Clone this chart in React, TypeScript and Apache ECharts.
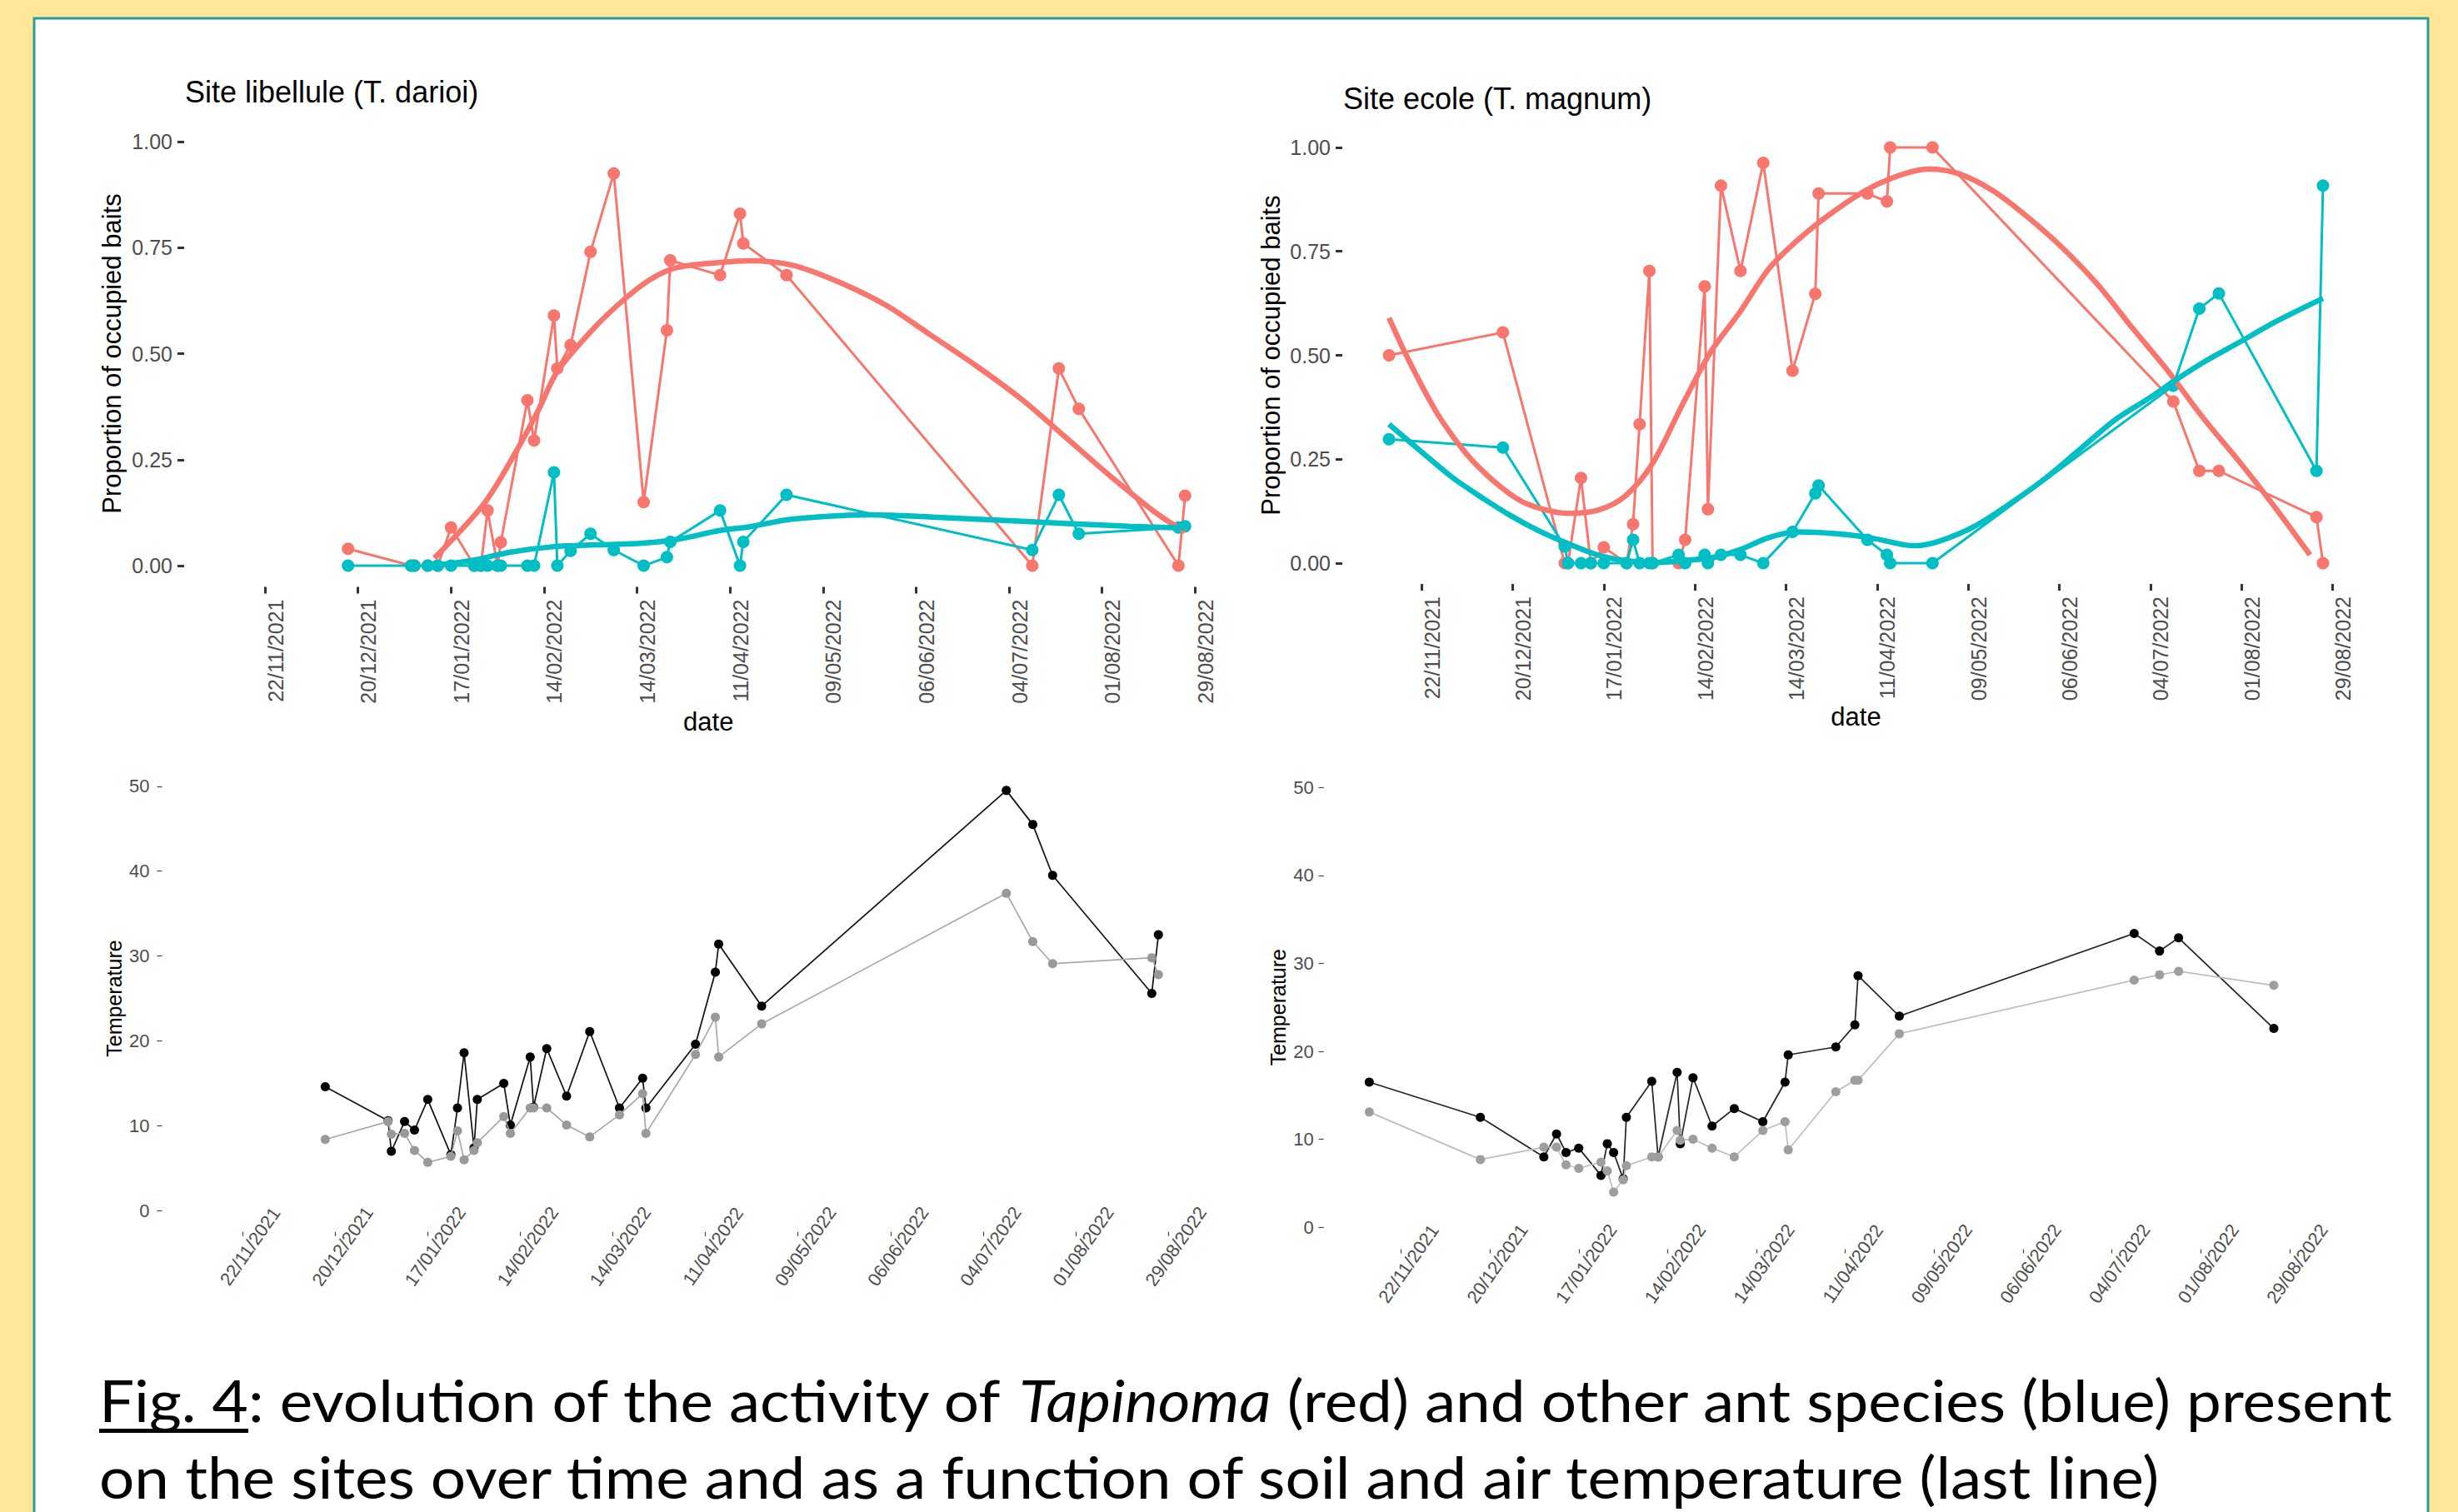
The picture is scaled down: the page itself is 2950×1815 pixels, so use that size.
import React, { useEffect, useRef } from 'react';
import * as echarts from 'echarts';

// ---------------- data ----------------
const BASE_DATE = '2021-11-22';
const tickDates = ['2021-11-22', '2021-12-20', '2022-01-17', '2022-02-14', '2022-03-14', '2022-04-11', '2022-05-09', '2022-06-06', '2022-07-04', '2022-08-01', '2022-08-29'];
const propTicks = [0, 0.25, 0.5, 0.75, 1];
const tempTicks = [0, 10, 20, 30, 40, 50];

// Site libellule (T. darioi)
const libDates = ['2021-12-17', '2022-01-05', '2022-01-06', '2022-01-10', '2022-01-13', '2022-01-17', '2022-01-24', '2022-01-26', '2022-01-28', '2022-01-31', '2022-02-01', '2022-02-09', '2022-02-11', '2022-02-17', '2022-02-18', '2022-02-22', '2022-02-28', '2022-03-07', '2022-03-16', '2022-03-23', '2022-03-24', '2022-04-08', '2022-04-14', '2022-04-15', '2022-04-28', '2022-07-11', '2022-07-19', '2022-07-25', '2022-08-24', '2022-08-26'];
const libTapinoma = [0.04, 0, 0, 0, 0, 0.09, 0, 0, 0.13, 0, 0.055, 0.39, 0.295, 0.59, 0.465, 0.52, 0.74, 0.925, 0.15, 0.555, 0.72, 0.685, 0.83, 0.76, 0.685, 0, 0.465, 0.37, 0, 0.165];
const libOther = [0, 0, 0, 0, 0, 0, 0, 0, 0, 0, 0, 0, 0, 0.22, 0, 0.035, 0.075, 0.037, 0, 0.02, 0.056, 0.13, 0, 0.056, 0.167, 0.037, 0.167, 0.075, 0.09, 0.093];
// smooth curves (days since 22/11/2021)
const libTapinomaSmoothDay = [51, 66, 76, 82.5, 88, 99, 108, 116, 124, 137, 146, 159, 173, 187, 200, 214, 228, 241, 255, 269, 277];
const libTapinomaSmooth = [0.018, 0.147, 0.275, 0.37, 0.458, 0.56, 0.627, 0.675, 0.703, 0.715, 0.719, 0.708, 0.668, 0.614, 0.546, 0.472, 0.391, 0.303, 0.208, 0.12, 0.08];
const libOtherSmoothDay = [50, 62, 74, 87, 99, 112, 124, 137, 146, 159, 182, 205, 232, 260, 277];
const libOtherSmooth = [0.0, 0.012, 0.032, 0.045, 0.049, 0.052, 0.062, 0.083, 0.092, 0.11, 0.12, 0.113, 0.103, 0.093, 0.089];

// Site ecole (T. magnum)
const ecoleDates = ['2021-11-12', '2021-12-17', '2022-01-05', '2022-01-06', '2022-01-10', '2022-01-13', '2022-01-17', '2022-01-24', '2022-01-26', '2022-01-28', '2022-01-31', '2022-02-01', '2022-02-09', '2022-02-11', '2022-02-17', '2022-02-18', '2022-02-22', '2022-02-28', '2022-03-07', '2022-03-16', '2022-03-23', '2022-03-24', '2022-04-08', '2022-04-14', '2022-04-15', '2022-04-28', '2022-07-11', '2022-07-19', '2022-07-25', '2022-08-24', '2022-08-26'];
const ecoleTapinoma = [0.5, 0.555, 0, 0, 0.205, 0, 0.038, 0, 0.094, 0.334, 0.703, 0, 0, 0.056, 0.666, 0.13, 0.908, 0.703, 0.963, 0.463, 0.648, 0.889, 0.889, 0.87, 1.0, 1.0, 0.389, 0.222, 0.222, 0.111, 0];
const ecoleOther = [0.298, 0.278, 0.04, 0, 0, 0, 0, 0, 0.056, 0, 0, 0, 0.02, 0, 0.02, 0, 0.02, 0.02, 0, 0.075, 0.168, 0.187, 0.056, 0.02, 0, 0, 0.427, 0.612, 0.649, 0.222, 0.908];
const ecoleTapinomaSmoothDay = [-10, -4, 5, 14, 23, 32, 45, 54, 62.5, 71, 80, 89, 98, 106.5, 116, 127, 138, 148.5, 156, 165, 175.5, 186, 197, 208, 218.5, 229.5, 240, 251, 262, 273];
const ecoleTapinomaSmooth = [0.59, 0.489, 0.358, 0.261, 0.192, 0.144, 0.12, 0.127, 0.161, 0.24, 0.379, 0.51, 0.606, 0.706, 0.78, 0.848, 0.903, 0.937, 0.948, 0.937, 0.896, 0.834, 0.758, 0.668, 0.565, 0.461, 0.351, 0.247, 0.137, 0.02];
const ecoleOtherSmoothDay = [-10, 1, 9.5, 18.5, 27, 36, 45, 54, 62.5, 71, 80, 89, 98, 106.5, 115.5, 127, 138, 148.5, 152, 159.5, 170, 181, 192, 202.5, 213, 224, 230.5, 240, 251, 262, 277];
const ecoleOtherSmooth = [0.334, 0.261, 0.206, 0.158, 0.116, 0.078, 0.047, 0.02, 0.006, 0.001, 0.006, 0.013, 0.033, 0.061, 0.075, 0.071, 0.061, 0.044, 0.042, 0.054, 0.089, 0.144, 0.206, 0.275, 0.344, 0.399, 0.434, 0.482, 0.53, 0.579, 0.637];

// Temperatures
const libSoilTemp = [14.6, 10.6, 7.0, 10.5, 9.5, 13.1, 6.6, 12.1, 18.6, 7.4, 13.1, 15.0, 10.1, 18.1, 12.2, 19.1, 13.5, 21.1, 12.1, 15.6, 12.1, 19.6, 28.1, 31.4, 24.1, 49.5, 45.5, 39.5, 25.6, 32.5];
const libAirTemp = [8.4, 10.5, 9.0, 9.1, 7.1, 5.7, 6.4, 9.4, 6.0, 7.1, 8.0, 11.1, 9.1, 12.1, 12.1, 12.1, 10.1, 8.7, 11.3, 13.8, 9.1, 18.4, 22.8, 18.1, 22.0, 37.4, 31.7, 29.1, 29.8, 27.8];
const ecoleTempDates = ['2021-11-12', '2021-12-17', '2022-01-06', '2022-01-10', '2022-01-13', '2022-01-17', '2022-01-24', '2022-01-26', '2022-01-28', '2022-01-31', '2022-02-01', '2022-02-09', '2022-02-11', '2022-02-17', '2022-02-18', '2022-02-22', '2022-02-28', '2022-03-07', '2022-03-16', '2022-03-23', '2022-03-24', '2022-04-08', '2022-04-14', '2022-04-15', '2022-04-28', '2022-07-11', '2022-07-19', '2022-07-25', '2022-08-24'];
const ecoleSoilTemp = [16.5, 12.5, 8.0, 10.6, 8.5, 9.0, 5.9, 9.5, 8.5, 5.5, 12.5, 16.6, 8.0, 17.6, 9.5, 17.0, 11.5, 13.5, 12.0, 16.5, 19.6, 20.5, 23.0, 28.6, 24.0, 33.4, 31.4, 32.9, 22.6];
const ecoleAirTemp = [13.1, 7.7, 9.1, 9.1, 7.1, 6.7, 7.4, 6.4, 4.0, 5.4, 7.0, 8.0, 8.0, 11.0, 9.9, 10.0, 9.0, 8.0, 11.0, 12.0, 8.8, 15.4, 16.7, 16.7, 22.0, 28.1, 28.7, 29.1, 27.5];

const capFig = 'Fig. 4';
const cap1a = ': evolution of the activity of ';
const cap1b = 'Tapinoma';
const cap1c = ' (red) and other ant species (blue) present';
const cap2 = 'on the sites over time and as a function of soil and air temperature (last line)';

// ---------------- layout / style ----------------
const FONT = '"Liberation Sans", Arial, sans-serif';
const RED = '#F8766D';
const TEAL = '#00BFC4';
const X_MIN = -24.35;
const X_MAX = 291.35;

const DAY = 86400000;
const baseMs = Date.parse(BASE_DATE + 'T00:00:00Z');
const dayOf = (s: string) => Math.round((Date.parse(s + 'T00:00:00Z') - baseMs) / DAY);
const pad = (n: number) => (n < 10 ? '0' + n : '' + n);
const fmtDay = (v: number) => {
  const d = new Date(baseMs + Math.round(v) * DAY);
  return `${pad(d.getUTCDate())}/${pad(d.getUTCMonth() + 1)}/${d.getUTCFullYear()}`;
};
const tickDays = tickDates.map(dayOf);
const pts = (dates: string[], vals: number[]) => dates.map((d, i) => [dayOf(d), vals[i]]);
const curve = (days: number[], vals: number[]) => days.map((d, i) => [d, vals[i]]);

const xTop = (gridIndex: number, nameGap: number) => ({
  type: 'value', gridIndex, min: X_MIN, max: X_MAX,
  name: 'date', nameLocation: 'middle', nameGap,
  nameTextStyle: { fontSize: 31, color: '#000', fontFamily: FONT, align: 'center', verticalAlign: 'middle' },
  axisLine: { show: false, onZero: false },
  axisTick: { show: true, customValues: tickDays, length: 8, lineStyle: { color: '#333333', width: 3 } },
  axisLabel: { customValues: tickDays, formatter: fmtDay, rotate: 90, margin: 15, fontSize: 25, color: '#4D4D4D', fontFamily: FONT, align: 'right', verticalAlign: 'top' },
  splitLine: { show: false },
});
const yTop = (gridIndex: number, nameGap: number) => ({
  type: 'value', gridIndex, min: -0.05, max: 1.05,
  name: 'Proportion of occupied baits', nameLocation: 'middle', nameGap, nameRotate: 90,
  nameTextStyle: { fontSize: 31, color: '#000', fontFamily: FONT, align: 'center', verticalAlign: 'middle' },
  axisLine: { show: false, onZero: false },
  axisTick: { show: true, customValues: propTicks, length: 8, lineStyle: { color: '#333333', width: 3 } },
  axisLabel: { customValues: propTicks, formatter: (v: number) => v.toFixed(2), margin: 14, fontSize: 25, color: '#4D4D4D', fontFamily: FONT },
  splitLine: { show: false },
});
const xBot = (gridIndex: number) => ({
  type: 'value', gridIndex, min: X_MIN, max: X_MAX,
  axisLine: { show: false, onZero: false },
  axisTick: { show: true, customValues: tickDays, length: 5, lineStyle: { color: '#444', width: 1.2 } },
  axisLabel: { customValues: tickDays, formatter: fmtDay, rotate: 55, margin: 11, fontSize: 22, color: '#4D4D4D', fontFamily: FONT, align: 'center', verticalAlign: 'top' },
  splitLine: { show: false },
});
const yBot = (gridIndex: number, nameGap: number, margin: number) => ({
  type: 'value', gridIndex, min: -2.5, max: 52.5,
  name: 'Temperature', nameLocation: 'middle', nameGap, nameRotate: 90,
  nameTextStyle: { fontSize: 25, color: '#000', fontFamily: FONT, align: 'center', verticalAlign: 'middle' },
  axisLine: { show: false, onZero: false },
  axisTick: { show: true, customValues: tempTicks, length: 6, lineStyle: { color: '#444', width: 1.2 } },
  axisLabel: { customValues: tempTicks, formatter: (v: number) => String(v), margin, fontSize: 22, color: '#4D4D4D', fontFamily: FONT },
  splitLine: { show: false },
});

const obsSeries = (idx: number, data: number[][], color: string, z: number) => ({
  type: 'line', xAxisIndex: idx, yAxisIndex: idx, data, z,
  symbol: 'circle', symbolSize: 15, showSymbol: true, showAllSymbol: true,
  lineStyle: { color, width: 3 }, itemStyle: { color, borderWidth: 0 },
  silent: true, emphasis: { disabled: true },
});
const smoothSeries = (idx: number, data: number[][], color: string, z: number) => ({
  type: 'line', xAxisIndex: idx, yAxisIndex: idx, data, z,
  smooth: 0.3, showSymbol: false, symbol: 'none',
  lineStyle: { color, width: 6.5 },
  silent: true, emphasis: { disabled: true },
});
const tempSeries = (idx: number, data: number[][], lineColor: string, pointColor: string, z: number) => ({
  type: 'line', xAxisIndex: idx, yAxisIndex: idx, data, z,
  symbol: 'circle', symbolSize: 11, showSymbol: true, showAllSymbol: true,
  lineStyle: { color: lineColor, width: 1.7 }, itemStyle: { color: pointColor, borderWidth: 0 },
  silent: true, emphasis: { disabled: true },
});

export default function App() {
  const ref = useRef<HTMLDivElement>(null);
  useEffect(() => {
    if (!ref.current) return;
    const chart = echarts.init(ref.current, undefined, { renderer: 'svg' });

    const ctx = document.createElement('canvas').getContext('2d') as CanvasRenderingContext2D;
    const measure = (t: string, font: string) => { ctx.font = font; return ctx.measureText(t).width; };
    const CAP = 70;
    const capFont = `${CAP}px Lato`;
    const capItalic = `italic ${CAP}px Lato`;
    const line1W = measure(capFig + cap1a, capFont) + measure(cap1b, capItalic) + measure(cap1c, capFont);
    const sx = 2754 / line1W;
    const figW = measure(capFig, capFont) * sx;

    const grids = [
      { left: 221, top: 144.5, width: 1258.5, height: 560 },
      { left: 1611, top: 152, width: 1233, height: 549 },
      { left: 194.5, top: 918.3, width: 1252.7, height: 560.5 },
      { left: 1588.7, top: 918.8, width: 1202.5, height: 580.8 },
    ].map((g) => ({ ...g, containLabel: false, outerBoundsMode: 'none' }));

    const option: any = {
      animation: false,
      backgroundColor: '#FFE699',
      title: [
        { text: 'Site libellule (T. darioi)', left: 222, top: 92, padding: 0, textStyle: { fontSize: 36, fontWeight: 'normal', color: '#000', fontFamily: FONT } },
        { text: 'Site ecole (T. magnum)', left: 1612, top: 100, padding: 0, textStyle: { fontSize: 36, fontWeight: 'normal', color: '#000', fontFamily: FONT } },
      ],
      grid: grids,
      xAxis: [xTop(0, 161.5), xTop(1, 159), xBot(2), xBot(3)],
      yAxis: [yTop(0, 86.4), yTop(1, 86), yBot(2, 57.5, 15), yBot(3, 54.7, 12)],
      series: [
        obsSeries(0, pts(libDates, libTapinoma), RED, 2),
        obsSeries(0, pts(libDates, libOther), TEAL, 3),
        smoothSeries(0, curve(libTapinomaSmoothDay, libTapinomaSmooth), RED, 4),
        smoothSeries(0, curve(libOtherSmoothDay, libOtherSmooth), TEAL, 5),
        obsSeries(1, pts(ecoleDates, ecoleTapinoma), RED, 2),
        obsSeries(1, pts(ecoleDates, ecoleOther), TEAL, 3),
        smoothSeries(1, curve(ecoleTapinomaSmoothDay, ecoleTapinomaSmooth), RED, 4),
        smoothSeries(1, curve(ecoleOtherSmoothDay, ecoleOtherSmooth), TEAL, 5),
        tempSeries(2, pts(libDates, libSoilTemp), '#111111', '#000000', 2),
        tempSeries(2, pts(libDates, libAirTemp), '#A8A8A8', '#999999', 3),
        tempSeries(3, pts(ecoleTempDates, ecoleSoilTemp), '#222222', '#000000', 2),
        tempSeries(3, pts(ecoleTempDates, ecoleAirTemp), '#BDBDBD', '#9E9E9E', 3),
      ],
      graphic: [
        { type: 'rect', z: -10, silent: true, shape: { x: 41, y: 22, width: 2873, height: 1840 }, style: { fill: '#FFFFFF', stroke: '#2A9D9B', lineWidth: 3 } },
        {
          type: 'text', z: 10, x: 119, y: 1680, scaleX: sx, silent: true,
          style: {
            text: `{u|${capFig}}${cap1a}{i|${cap1b}}${cap1c}`,
            fontSize: CAP, fontFamily: 'Lato', fill: '#000', align: 'left', verticalAlign: 'middle', lineHeight: CAP,
            rich: { u: { fontSize: CAP, fontFamily: 'Lato', fill: '#000', lineHeight: CAP }, i: { fontSize: CAP, fontFamily: 'Lato', fontStyle: 'italic', fill: '#000', lineHeight: CAP } },
          },
        },
        { type: 'rect', z: 10, silent: true, shape: { x: 119, y: 1715, width: figW, height: 5 }, style: { fill: '#000' } },
        {
          type: 'text', z: 10, x: 119, y: 1772, scaleX: sx, silent: true,
          style: { text: cap2, fontSize: CAP, fontFamily: 'Lato', fill: '#000', align: 'left', verticalAlign: 'middle', lineHeight: CAP },
        },
      ],
    };
    chart.setOption(option);
    return () => chart.dispose();
  }, []);
  return <div ref={ref} style={{ position: 'absolute', left: 0, top: 0, width: 2950, height: 1815 }} />;
}
